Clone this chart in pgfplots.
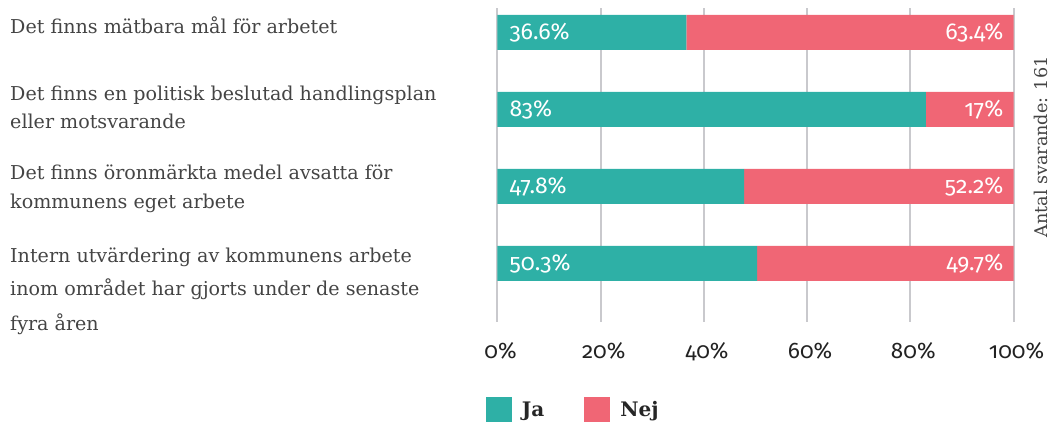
\documentclass[border=0pt]{standalone}
\usepackage{pgfplots}
\usepackage{pgfplotstable}
\pgfplotsset{compat=1.18}
\usepackage{fontspec}
\setmainfont{DejaVu Serif}
\newfontfamily\fira[Numbers=OldStyle]{Fira Sans}
\definecolor{ja}{HTML}{2EB0A6}
\definecolor{nej}{HTML}{F06675}
\definecolor{gridc}{HTML}{C9C9CD}
\definecolor{txt}{HTML}{444444}
\definecolor{tick}{HTML}{222222}

\pgfplotstableread{
y ja nej
3 36.6 63.4
2 83 17
1 47.8 52.2
0 50.3 49.7
}\data

\pgfplotsset{common/.style={
  at={(0,0)}, anchor=south west,
  scale only axis, width=516pt, height=314pt,
  xmin=0, xmax=100, ymin=-0.76, ymax=3.318, clip=false}}

\begin{document}
\begin{tikzpicture}[x=1pt,y=1pt]
\useasboundingbox (-497.5,-100) rectangle (554.5,322);
\begin{axis}[common,
  xbar stacked, bar width=35pt,
  axis line style={draw=none},
  major tick style={draw=none},
  ytick=\empty,
  xtick={0,20,40,60,80,100},
  xticklabels={0\%,20\%,40\%,60\%,80\%,100\%},
  xticklabel style={font=\fira\fontsize{22.5}{22.5}\selectfont, text=tick, anchor=north, inner sep=0pt, yshift=-20pt, xshift=3pt},
  xmajorgrids, grid style={color=gridc, line width=2pt},
  legend style={draw=none, fill=none, inner sep=0pt, outer sep=0pt,
    at={(-0.0223,-0.280)}, anchor=west, legend columns=-1,
    font=\bfseries\fontsize{20}{20}\selectfont, text=black!85,
    nodes={inner sep=0pt},
    /tikz/every odd column/.append style={column sep=10pt},
    /tikz/every even column/.append style={column sep=40pt}},
  legend image code/.code={\fill[#1] (0pt,-13pt) rectangle (26pt,13pt);},
]
\addplot[fill=ja, draw=none] table[x=ja, y=y] {\data};
\addlegendentry{Ja}
\addplot[fill=nej, draw=none] table[x=nej, y=y] {\data};
\addlegendentry{Nej}
\end{axis}
\begin{axis}[common, hide axis]
\addplot[only marks, mark=none,
  nodes near coords={\pgfplotspointmeta\%}, point meta=explicit symbolic,
  every node near coord/.style={anchor=west, inner sep=0pt, xshift=12pt, text=white, font=\fira\fontsize{23}{23}\selectfont}]
  table[x expr=0, y=y, meta=ja] {\data};
\addplot[only marks, mark=none,
  nodes near coords={\pgfplotspointmeta\%}, point meta=explicit symbolic,
  every node near coord/.style={anchor=east, inner sep=0pt, xshift=-10pt, text=white, font=\fira\fontsize{23}{23}\selectfont}]
  table[x expr=100, y=y, meta=nej] {\data};
\end{axis}
\begin{scope}[every node/.style={anchor=base west, inner sep=0pt, text=txt, font=\fontsize{19.1}{20}\selectfont}]
\node at (-487.5,288) {Det finns mätbara mål för arbetet};
\node at (-487.5,221) {Det finns en politisk beslutad handlingsplan};
\node at (-487.5,193) {eller motsvarande};
\node at (-487.5,142) {Det finns öronmärkta medel avsatta för};
\node at (-487.5,113) {kommunens eget arbete};
\node at (-487.5,59) {Intern utvärdering av kommunens arbete};
\node at (-487.5,26) {inom området har gjorts under de senaste};
\node at (-487.5,-9) {fyra åren};
\end{scope}
\node[rotate=90, text=txt, inner sep=0pt, font=\fontsize{17.6}{20}\selectfont] at (543.5,175) {Antal svarande: 161};
\end{tikzpicture}
\end{document}
